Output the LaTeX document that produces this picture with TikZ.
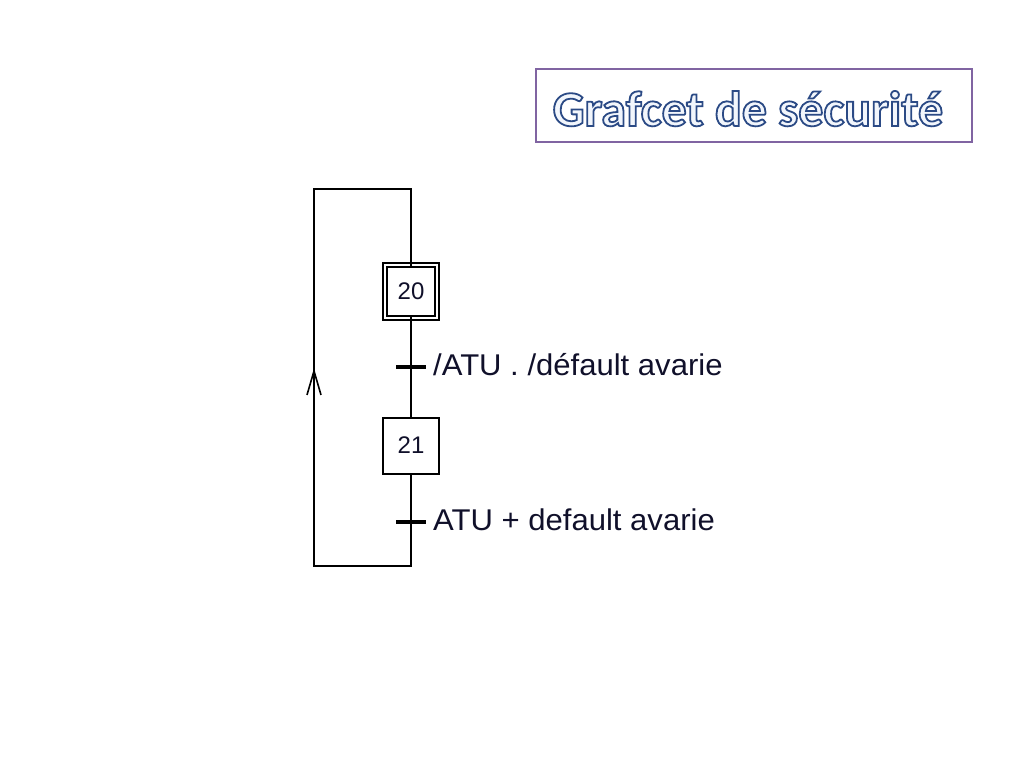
\documentclass[tikz,border=0pt]{standalone}
\usepackage{fontspec}
\setmainfont{Liberation Sans}
\newfontfamily\titlefont{Carlito}
\usetikzlibrary{arrows.meta,decorations.markings}
\definecolor{framec}{HTML}{8064A2}
\definecolor{fillt}{HTML}{F2F6FC}
\definecolor{labc}{HTML}{10102A}
\newcommand{\outlinetxt}[1]{{\color{fillt}\special{pdf:code q 2 Tr 1.8 w 0.17 0.29 0.52 RG}#1\special{pdf:code Q}}}
\newcommand{\widetxt}[1]{\scalebox{1.035}[1]{#1}}
\tikzset{
  wire/.style={line width=2.2pt, line cap=rect},
  stepbox/.style={draw, line width=2pt, minimum size=56pt, inner sep=0pt, font=\fontsize{24}{24}\selectfont, text=labc, fill=white},
  initbox/.style={draw, line width=1.6pt, double, double distance=2.4pt, minimum size=52.5pt, inner sep=0pt, font=\fontsize{24}{24}\selectfont, text=labc},
  transbar/.style={fill=black, minimum width=30pt, minimum height=3.6pt, inner sep=0pt},
  translab/.style={anchor=base west, inner sep=0pt, font=\fontsize{30}{30}\selectfont, text=labc},
  upmark/.style={postaction={decorate}, decoration={markings, mark=at position 0.525 with {\arrow[line width=1.6pt]{Straight Barb[length=24pt,width=14pt]}}}}
}
\begin{document}
\begin{tikzpicture}[x=1pt,y=-1pt]
\useasboundingbox (0,0) rectangle (1024,768);
% grafcet
\node[initbox] (s20) at (411,291.5) {20};
\node[stepbox] (s21) at (411,445.5) {21};
\node[transbar] (t1) at (411,367) {};
\node[transbar] (t2) at (411,522) {};
\node[translab] (l1) at (433,375) {\widetxt{/ATU . /défault avarie}};
\node[translab] (l2) at (433,530) {\widetxt{ATU + default avarie}};
\coordinate (c1) at (411,566);
\coordinate (c2) at (314,566);
\coordinate (c3) at (314,189);
\coordinate (c4) at (411,189);
\draw[wire] (s20) -- (t1);
\draw[wire] (t1) -- (s21);
\draw[wire] (s21) -- (t2);
\draw[wire] (t2) -- (c1) -- (c2);
\draw[wire, upmark] (c2) -- (c3);
\draw[wire] (c3) -- (c4) -- (s20);
% title
\node[draw=framec, line width=2pt, minimum width=436pt, minimum height=73pt, inner sep=0pt] (tbox) at (754,105.5) {};
\node[anchor=base, inner sep=0pt, font=\titlefont\bfseries\fontsize{50}{50}\selectfont] (title) at (748,126) {\outlinetxt{Grafcet de sécurité}};
\end{tikzpicture}
\end{document}
